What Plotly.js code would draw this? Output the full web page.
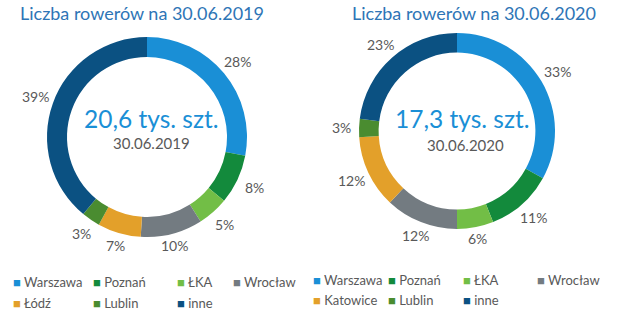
<!DOCTYPE html>
<html>
<head>
<meta charset="utf-8">
<script src="https://cdn.plot.ly/plotly-3.0.1.min.js"></script>
<style>html,body{margin:0;padding:0;background:#fff;}#chart{width:618px;height:321px;}</style>
</head>
<body>
<div id="chart"></div>
<script>
// ---- data ----
const labels2019 = ["Warszawa", "Poznań", "ŁKA", "Wrocław", "Łódź", "Lublin", "inne"];
const values2019 = [28, 8, 5, 10, 7, 3, 39];
const labels2020 = ["Warszawa", "Poznań", "ŁKA", "Wrocław", "Katowice", "Lublin", "inne"];
const values2020 = [33, 11, 6, 12, 12, 3, 23];
const title2019 = "Liczba rowerów na 30.06.2019";
const title2020 = "Liczba rowerów na 30.06.2020";
const total2019 = "20,6 tys. szt.";
const total2020 = "17,3 tys. szt.";
const date2019 = "30.06.2019";
const date2020 = "30.06.2020";

// ---- styles ----
const colors = ["#1a8fd6", "#138a3c", "#72be46", "#737b81", "#e3a02a", "#4a8c30", "#0b5182"];
const FONT = "Lato, 'Open Sans', sans-serif";
const GRAY = "#595959";
const W = 618, H = 321;

function pie(labels, values, dom) {
  return {
    type: "pie", labels: labels, values: values, hole: 0.8, sort: false,
    direction: "clockwise", rotation: 0,
    marker: {colors: colors, line: {width: 0}},
    textinfo: "none",
    showlegend: false, hoverinfo: "label+percent",
    domain: dom
  };
}

// donut boxes in pixels: [left, top, size]
const box1 = [47, 37, 200];
const box2 = [359, 33, 196];
function dom(b) {
  return {x: [b[0] / W, (b[0] + b[2]) / W], y: [1 - (b[1] + b[2]) / H, 1 - b[1] / H]};
}

const annotations = [];
function px(x) { return x / W; }
function py(y) { return 1 - y / H; }
function addText(text, x, y, size, color, xanchor) {
  annotations.push({text: text, x: px(x), y: py(y), xref: "paper", yref: "paper",
    xanchor: xanchor || "center", yanchor: "middle", showarrow: false,
    font: {family: FONT, size: size, color: color}});
}
addText(title2019, 18, 13, 18, "#2e75b6", "left");
addText(title2020, 350, 13, 18, "#2e75b6", "left");
addText(total2019, 151, 118, 24.5, "#1a8fd6");
addText(date2019, 151, 143, 15, GRAY);
addText(total2020, 462, 118, 24.5, "#1a8fd6");
addText(date2020, 465, 145, 15, GRAY);

// percentage labels placed just outside the ring at the slice mid-angle
function pctLabels(values, b) {
  const total = values.reduce((a, v) => a + v, 0);
  const cx = b[0] + b[2] / 2, cy = b[1] + b[2] / 2;
  let cum = 0;
  values.forEach(v => {
    const ang = (cum + v / 2) / total * 2 * Math.PI;
    cum += v;
    const txt = Math.round(v / total * 100) + "%";
    const s = Math.sin(ang), c = Math.cos(ang);
    const r = b[2] / 2 + 2 + 15 * Math.abs(s) + 7 * Math.abs(c);
    addText(txt, cx + r * s, cy - r * c, 14, GRAY);
  });
}
pctLabels(values2019, box1);
pctLabels(values2020, box2);

// legend layout (pixel positions of each item)
const leg1x = [11, 91, 175, 231, 11, 91, 175];
const leg1y = [282, 282, 282, 282, 303, 303, 303];
const leg2x = [311, 386, 461, 535, 311, 386, 461];
const leg2y = [280, 280, 280, 280, 300, 300, 300];
function legend(labels, xs, ys) {
  labels.forEach((l, i) => {
    addText('<span style="color:' + colors[i] + '">■</span> ' + l, xs[i], ys[i], 13, GRAY, "left");
  });
}
legend(labels2019, leg1x, leg1y);
legend(labels2020, leg2x, leg2y);

const data = [pie(labels2019, values2019, dom(box1)), pie(labels2020, values2020, dom(box2))];
const layout = {
  width: W, height: H, margin: {l: 0, r: 0, t: 0, b: 0},
  paper_bgcolor: "#fff", plot_bgcolor: "#fff",
  showlegend: false, annotations: annotations,
  font: {family: FONT, color: GRAY}
};
Plotly.newPlot("chart", data, layout, {displayModeBar: false, staticPlot: true});
</script>
</body>
</html>
